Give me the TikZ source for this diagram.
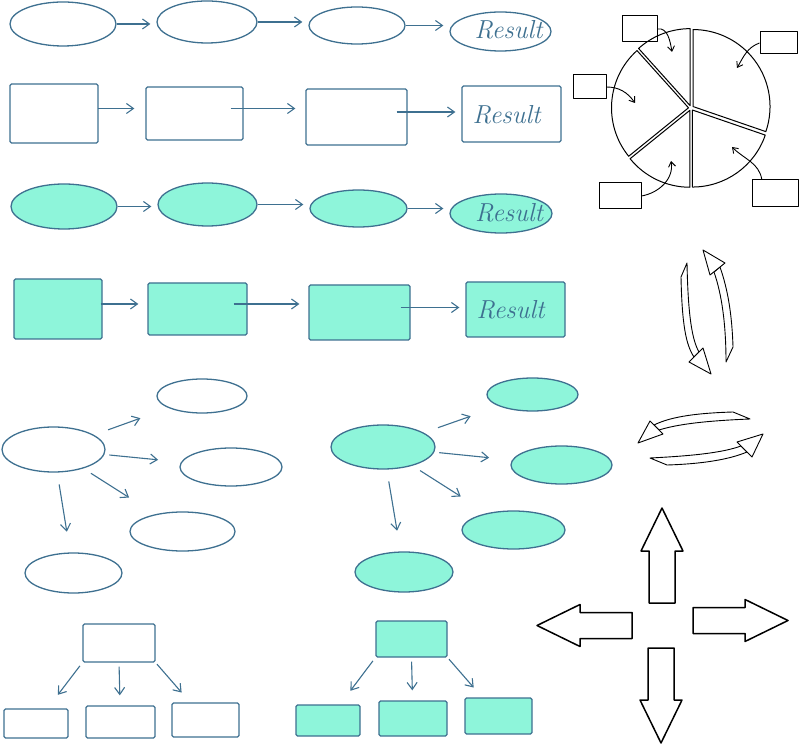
\documentclass[tikz,border=0pt]{standalone}
\usepackage{xcolor}
\usepackage{tikz}
\usetikzlibrary{calc, shapes.geometric, arrows.meta}

\definecolor{ink}{HTML}{3E7090}
\definecolor{mint}{HTML}{8EF5DA}

\begin{document}
\begin{tikzpicture}[x=1pt, y=1pt, line join=round,
		dims/.style 2 args={minimum width=#1pt, minimum height=#2pt},
		oval/.style={ellipse, draw=ink, line width=1.3pt, inner sep=0pt},
		ovalfill/.style={oval, fill=mint},
		box/.style={rectangle, draw=ink, line width=1.3pt, inner sep=0pt, rounded corners=1.5pt},
		boxfill/.style={box, fill=mint},
		flow/.style={draw=ink, line width=1.1pt, -{Straight Barb[length=7pt, width=10pt]}},
		result/.style={text=ink, font=\fontsize{26}{26}\selectfont\itshape},
		pbox/.style={rectangle, draw, line width=1pt, inner sep=0pt},
		pointer/.style={line width=0.9pt, -{Straight Barb[length=5pt, width=7pt]}},
		wedge/.style={line width=1pt},
		band/.style={draw, fill=white, line width=0.9pt},
		block/.style={draw, line width=1.5pt}]
		
		\useasboundingbox (0,0) rectangle (800,745);
		
		\begin{scope}
		\node [oval, dims={106}{44}] (o1) at (63,721) {};
		\node [oval, dims={100}{42}] (o2) at (207,723) {};
		\node [oval, dims={96}{37}] (o3) at (357,719.5) {};
		\node [oval, dims={101}{39}, label={[result, xshift=8pt, yshift=2pt]center:Result}] (o4) at (500.5,713.5) {};
		\foreach \a/\b in {o1/o2, o2/o3, o3/o4}
			\draw [flow, shorten >=6pt] (\a.east) -- (\a.east -| \b.west);
		\end{scope}
		
		\begin{scope}
		\node [box, dims={88}{59}] (b1) at (54,631.5) {};
		\node [box, dims={97}{53}] (b2) at (194.5,631.5) {};
		\node [box, dims={101}{56}] (b3) at (356.5,628) {};
		\node [box, dims={99}{56}, label={[result, xshift=-5pt, yshift=-1pt]center:Result}] (b4) at (511.5,631) {};
		\foreach \a/\b/\i/\g in {b1/b2/1/11, b2/b3/13/10, b3/b4/11/6}
			\draw [flow, shorten >=\g pt] ($(\a.east)+(-\i,5)$) coordinate (s) -- (s -| \b.west);
		\end{scope}
		
		\begin{scope}
		\node [ovalfill, dims={106}{45}] (f1) at (64,538.5) {};
		\node [ovalfill, dims={99}{43}] (f2) at (207.5,540.5) {};
		\node [ovalfill, dims={97}{37}] (f3) at (358.5,536.5) {};
		\node [ovalfill, dims={102}{39}, label={[result, xshift=8pt, yshift=1pt]center:Result}] (f4) at (501,531.5) {};
		\foreach \a/\b in {f1/f2, f2/f3, f3/f4}
			\draw [flow, shorten >=6pt] (\a.east) -- (\a.east -| \b.west);
		\end{scope}
		
		\begin{scope}
		\node [boxfill, dims={88}{60}] (g1) at (58,436) {};
		\node [boxfill, dims={99}{52}] (g2) at (197.5,436) {};
		\node [boxfill, dims={101}{55}] (g3) at (359.5,432.5) {};
		\node [boxfill, dims={99}{55}, label={[result, xshift=-5pt]center:Result}] (g4) at (515.5,435.5) {};
		\foreach \a/\b/\i/\g in {g1/g2/2/9, g2/g3/14/9, g3/g4/10/6}
			\draw [flow, shorten >=\g pt] ($(\a.east)+(-\i,5)$) coordinate (s) -- (s -| \b.west);
		\end{scope}
		
		\begin{scope}
		\node [oval, dims={103}{45}] (mc) at (53.5,295.5) {};
		\node [oval, dims={90}{34}] (mt) at (202,349) {};
		\node [oval, dims={102}{38}] (mr) at (231,278) {};
		\node [oval, dims={105}{39}] (ml) at (182.5,213.5) {};
		\node [oval, dims={97}{40}] (mb) at (73.5,172) {};
		
		\node [ovalfill, dims={104}{44}] (nc) at (383,298) {};
		\node [ovalfill, dims={91}{33}] (nt) at (532.5,350.5) {};
		\node [ovalfill, dims={101}{38}] (nr) at (561.5,280) {};
		\node [ovalfill, dims={103}{38}] (nl) at (513.5,215) {};
		\node [ovalfill, dims={98}{40}] (nb) at (404,173) {};
		
		\foreach \p in {m, n} {
			\draw [flow, shorten <=15pt, shorten >=30pt] (\p c) -- (\p t);
			\draw [flow, shorten <=5pt, shorten >=23pt] (\p c) -- (\p r);
			\draw [flow, shorten <=9pt, shorten >=31pt] (\p c) -- (\p l);
			\draw [flow, shorten <=12pt, shorten >=21pt] (\p c) -- (\p b);
		}
		\end{scope}
		
		\begin{scope}
		\node [box, dims={72}{38}] (tt) at (119,102) {};
		\node [box, dims={64}{29}] (tl) at (36,21.5) {};
		\node [box, dims={69}{32}] (tm) at (120.5,23) {};
		\node [box, dims={67}{34}] (tr) at (205.5,25) {};
		
		\node [boxfill, dims={71}{36}] (ut) at (411.5,106) {};
		\node [boxfill, dims={64}{31}] (ul) at (328,24.5) {};
		\node [boxfill, dims={68}{35}] (um) at (413,26.5) {};
		\node [boxfill, dims={67}{36}] (ur) at (498.5,29) {};
		
		\foreach \p in {t, u} {
			\draw [flow, shorten <=4pt, shorten >=17pt] (\p t.south west) -- (\p l);
			\draw [flow, shorten <=4pt, shorten >=10pt] (\p t.south) -- (\p m);
			\draw [flow, shorten <=2pt, shorten >=13pt] (\p t.south east) -- (\p r);
		}
		\end{scope}
		
		\begin{scope}
		\coordinate (pie) at (691,637);
		\foreach \a/\b in {90/132, 132/219, 219/270, 270/341, 341/450}
			\draw [wedge] ($(pie)+({(\a+\b)/2}:2.5)$) -- ++(\a:77) arc [start angle=\a, end angle=\b, radius=77] -- cycle;
		
		\node [pbox, dims={35}{26}] (pa) at (639.5,716) {};
		\node [pbox, dims={33}{24}] (pb) at (589.5,658) {};
		\node [pbox, dims={37}{22}] (pc) at (778.5,702) {};
		\node [pbox, dims={42}{26}] (pd) at (620,549) {};
		\node [pbox, dims={46}{27}] (pe) at (775,551.5) {};
		
		\coordinate (qa) at (672,693);
		\coordinate (qb) at (635,642);
		\coordinate (qc) at (737,677);
		\coordinate (qd) at (671,584);
		\coordinate (qe) at (732,598);
		
		\draw [pointer] (pa.east) to [out=10, in=100] (qa);
		\draw [pointer] (pb.east) to [out=0, in=125] (qb);
		\draw [pointer] (pc.west) to [out=200, in=60] (qc);
		\draw [pointer] (pd.east) to [out=10, in=-80] (qd);
		\draw [pointer] ($(pe.north west)!0.22!(pe.north east)$) to [out=100, in=-45] (qe);
		\end{scope}
		
		\begin{scope}
		\draw [band] (687,482) -- (681,468) .. controls (682,420) and (686,400) .. (694,388) -- (699,393) .. controls (692,405) and (688,430) .. (687,482) -- cycle;
		\draw [band] (689,383) -- (711,371) -- (703,397) -- cycle;
		
		\draw [band] (726,383) -- (733,398) .. controls (732,430) and (728,455) .. (720,478) -- (714,473) .. controls (722,450) and (726,420) .. (726,383) -- cycle;
		\draw [band] (710,470) -- (703,495) -- (725,482) -- cycle;
		
		\draw [band] (733,333) -- (750,326) .. controls (700,324) and (675,320) .. (659,315) -- (654,320) .. controls (672,329) and (700,332) .. (733,333) -- cycle;
		\draw [band] (650,324) -- (638,302) -- (663,311) -- cycle;
		
		\draw [band] (650,287) -- (667,280) .. controls (700,281) and (728,285) .. (747,293) -- (741,299) .. controls (722,292) and (690,289) .. (650,287) -- cycle;
		\draw [band] (737,303) -- (763,311) -- (752,288) -- cycle;
		\end{scope}
		
		\begin{scope}[shift={(662,120)}]
		\foreach \a/\g/\o in {90/22/0, 180/30/0.5, 0/31/4.5, 270/23/-1}
			\draw [block, rotate=\a] (\g,-13+\o) -- ++(52,0) -- ++(0,-8) -- ++(43,21) -- ++(-43,21) -- ++(0,-8) -- ++(-52,0) -- cycle;
		\end{scope}
	\end{tikzpicture}
\end{document}
